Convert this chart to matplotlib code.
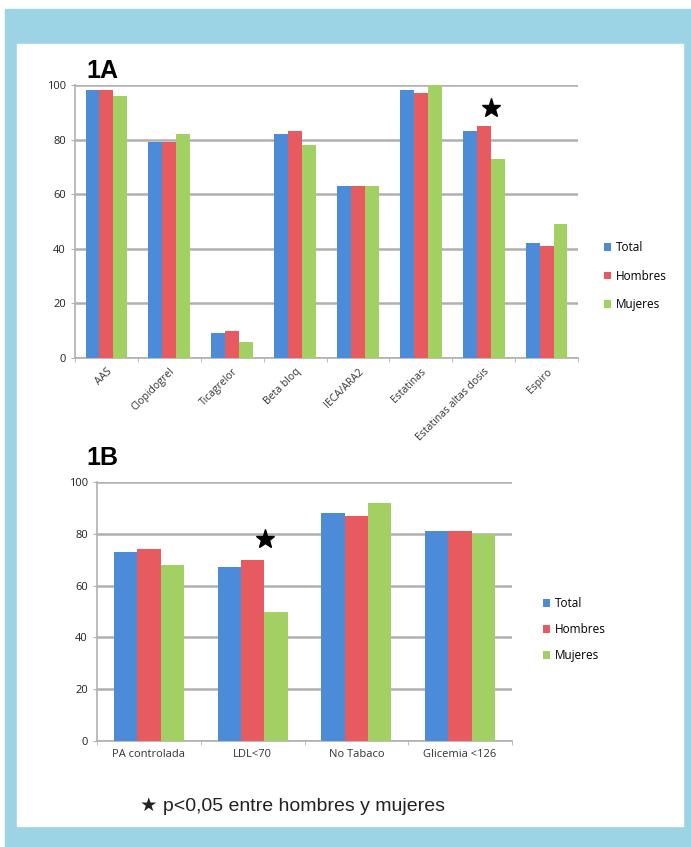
import matplotlib.pyplot as plt
import numpy as np
from matplotlib.patches import Rectangle

plt.rcParams["font.family"] = ["Open Sans", "DejaVu Sans"]

SERIES = ["Total", "Hombres", "Mujeres"]
COLORS = ["#4b8bd8", "#e65a60", "#a3d062"]

farmacos = [
    "AAS",
    "Clopidogrel",
    "Ticagrelor",
    "Beta bloq",
    "IECA/ARA2",
    "Estatinas",
    "Estatinas altas dosis",
    "Espiro",
]
farmacos_total = [98, 79, 9, 82, 63, 98, 83, 42]
farmacos_hombres = [98, 79, 10, 83, 63, 97, 85, 41]
farmacos_mujeres = [96, 82, 6, 78, 63, 100, 73, 49]

objetivos = ["PA controlada", "LDL<70", "No Tabaco", "Glicemia <126"]
objetivos_total = [73, 67, 88, 81]
objetivos_hombres = [74, 70, 87, 81]
objetivos_mujeres = [68, 50, 92, 80]

# categories with p<0.05 between men and women, and star height
star_1a = (6, 91.5)
star_1b = (1, 78)

FRAME_BLUE = "#9dd4e5"
W, H = 691, 847


def draw_panel(ax, categories, values, bar_w, star, label_rot, label_size):
    x = np.arange(len(categories))
    for i, (vals, color) in enumerate(zip(values, COLORS)):
        ax.bar(
            x + (i - 1) * bar_w,
            vals,
            width=bar_w,
            color=color,
            edgecolor="none",
            label=SERIES[i],
            zorder=3,
        )

    ax.set_xlim(-0.5, len(categories) - 0.5)
    ax.set_ylim(0, 100)
    ax.set_yticks(np.arange(0, 101, 20))
    ax.grid(axis="y", color="#b0b0b0", linewidth=1.8, zorder=0)

    ax.set_xticks(x)
    ax.set_xticks(np.arange(len(categories) + 1) - 0.5, minor=True)
    ax.tick_params(axis="x", which="major", length=0, pad=6)
    ax.tick_params(axis="x", which="minor", length=3, color="#b0b0b0")
    ax.tick_params(axis="y", length=3, color="#b0b0b0", labelsize=8,
                   labelcolor="#222222")
    if label_rot:
        ax.set_xticklabels(categories, rotation=label_rot, ha="right",
                           rotation_mode="anchor", fontsize=label_size,
                           color="#333333")
    else:
        ax.set_xticklabels(categories, fontsize=label_size, color="#333333")

    for side in ["top", "right"]:
        ax.spines[side].set_visible(False)
    for side in ["left", "bottom"]:
        ax.spines[side].set_color("#b0b0b0")
        ax.spines[side].set_linewidth(1.2)

    sx, sy = star
    ax.plot(sx + 0.12, sy, marker="*", markersize=14, color="black",
            zorder=4, clip_on=False)


fig = plt.figure(figsize=(W / 100, H / 100), dpi=100)
fig.patch.set_facecolor("white")

# light blue frame around a white panel
fig.add_artist(Rectangle((5 / W, 0), 1 - 5 / W, 1 - 9 / H,
                         transform=fig.transFigure, color=FRAME_BLUE,
                         zorder=-10))
fig.add_artist(Rectangle((17 / W, 1 - 826 / H), (683 - 17) / W,
                         (826 - 44) / H, transform=fig.transFigure,
                         color="white", zorder=-9))

ax1 = fig.add_axes([75 / W, 1 - 358 / H, (578 - 75) / W, (358 - 85) / H])
draw_panel(
    ax1,
    farmacos,
    [farmacos_total, farmacos_hombres, farmacos_mujeres],
    0.222,
    star_1a,
    45,
    7.5,
)
ax1.legend(loc="center left", bbox_to_anchor=(1.03, 0.3), frameon=False,
           fontsize=8.5, handlelength=0.6, handleheight=0.6,
           handletextpad=0.4, labelspacing=1.3)
fig.text(86 / W, 1 - 71 / H, "1A", fontsize=18, fontweight="bold",
         family="Liberation Sans", va="center")

ax2 = fig.add_axes([97 / W, 1 - 741 / H, (512 - 97) / W, (741 - 482) / H])
draw_panel(
    ax2,
    objetivos,
    [objetivos_total, objetivos_hombres, objetivos_mujeres],
    0.225,
    star_1b,
    0,
    8,
)
ax2.legend(loc="center left", bbox_to_anchor=(1.05, 0.43), frameon=False,
           fontsize=8.5, handlelength=0.6, handleheight=0.6,
           handletextpad=0.4, labelspacing=1.1)
fig.text(86 / W, 1 - 458 / H, "1B", fontsize=18, fontweight="bold",
         family="Liberation Sans", va="center")

fig.text(140 / W, 1 - 806 / H, "\u2605 p<0,05 entre hombres y mujeres",
         fontsize=14, family=["Liberation Sans", "DejaVu Sans"],
         color="#222222", va="center")

fig.savefig("out.png", dpi=100)
